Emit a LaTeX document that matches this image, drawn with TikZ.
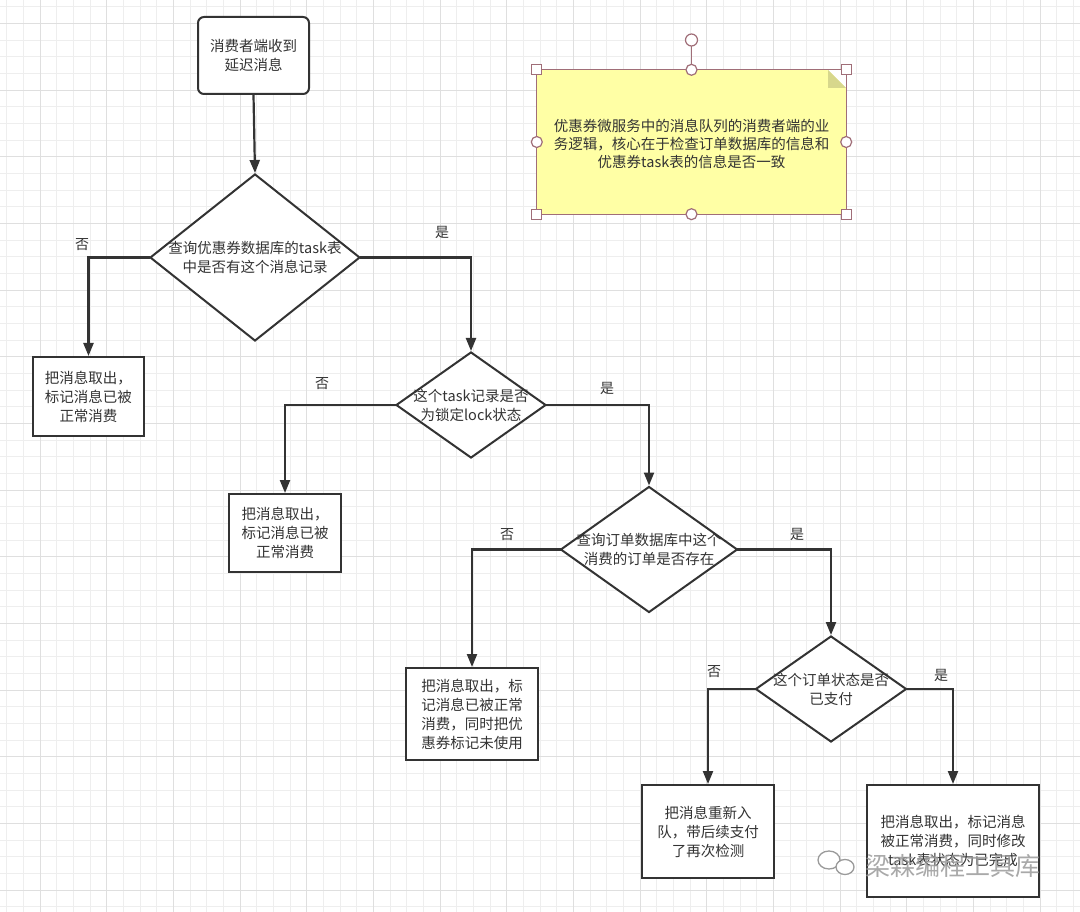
\documentclass[tikz,border=0pt]{standalone}
\usepackage{fontspec}
\usepackage{tikz}
\usetikzlibrary{shapes.geometric}
\usetikzlibrary{arrows.meta}
\newfontfamily\cjkfont{Noto Sans CJK SC}

\begin{document}
\begin{tikzpicture}[x=1pt,y=-1pt,line cap=rect,
	procbox/.style={draw=custcol_33_33_33, line width=2pt, fill=white, inner sep=0, align=center, text=custcol_33_33_33, font=\cjkfont\fontsize{14.5}{19}\selectfont},
	decision/.style={diamond, draw=custcol_33_33_33, line width=2pt, fill=white, inner sep=0},
	dtext/.style={inner sep=0, align=center, text=custcol_33_33_33, font=\cjkfont\fontsize{14.5}{19}\selectfont},
	yesno/.style={inner sep=0, text=custcol_33_33_33, font=\cjkfont\fontsize{14}{14}\selectfont},
	flowline/.style={line width=2.2pt, custcol_33_33_33, -{Triangle[length=13pt,width=10pt]}},
	sqhandle/.style={draw=custcol_a0_6e_78, line width=1.2pt, fill=white, inner sep=0, minimum size=10},
	rdhandle/.style={circle, draw=custcol_a0_6e_78, line width=1.2pt, fill=white, inner sep=0, minimum size=11}]
					\definecolor{custcol_33_33_33}{RGB}{51, 51, 51}
					\definecolor{custcol_ee_ee_ee}{RGB}{238, 238, 238}
					\definecolor{custcol_df_df_df}{RGB}{223, 223, 223}
					\definecolor{custcol_ff_ff_a5}{RGB}{255, 255, 165}
					\definecolor{custcol_d7_d7_8c}{RGB}{215, 215, 140}
					\definecolor{custcol_a0_6e_78}{RGB}{160, 110, 120}
					\definecolor{custcol_9a_9a_9a}{RGB}{154, 154, 154}
					\useasboundingbox [fill=white] (0,0) rectangle (1080,912);
					\foreach \k in {0,...,64} \draw [line width=0.8pt, custcol_ee_ee_ee] ({6.667+16.667*\k},0) -- ({6.667+16.667*\k},912);
					\foreach \k in {0,...,54} \draw [line width=0.8pt, custcol_ee_ee_ee] (0,{6.667+16.667*\k}) -- (1080,{6.667+16.667*\k});
					\foreach \k in {0,...,15} \draw [line width=0.9pt, custcol_df_df_df] ({40+66.667*\k},0) -- ({40+66.667*\k},912);
					\foreach \k in {0,...,13} \draw [line width=0.9pt, custcol_df_df_df] (0,{23.333+66.667*\k}) -- (1080,{23.333+66.667*\k});
					\node[procbox, rounded corners=6pt, minimum width=111, minimum height=77] (start) at (253.5,55.5) {消费者端收到\\延迟消息};
					\node[decision, minimum width=210, minimum height=167] (q1) at (255,257.5) {};
					\node[dtext] (q1t) at (q1) {查询优惠券数据库的task表\\中是否有这个消息记录};
					\node[procbox, minimum width=111, minimum height=79] (b1) at (88.5,396.5) {把消息取出，\\标记消息已被\\正常消费};
					\node[decision, minimum width=150, minimum height=106] (q2) at (471,405) {};
					\node[dtext] (q2t) at (q2) {这个task记录是否\\为锁定lock状态};
					\node[procbox, minimum width=112, minimum height=78] (b2) at (285,533) {把消息取出，\\标记消息已被\\正常消费};
					\node[decision, minimum width=177, minimum height=126] (q3) at (649,549.5) {};
					\node[dtext] (q3t) at (q3) {查询订单数据库中这个\\消费的订单是否存在};
					\node[procbox, minimum width=132, minimum height=92] (b3) at (472,714) {把消息取出，标\\记消息已被正常\\消费，同时把优\\惠券标记未使用};
					\node[decision, minimum width=151, minimum height=106] (q4) at (831,689) {};
					\node[dtext] (q4t) at (q4) {这个订单状态是否\\已支付};
					\node[procbox, minimum width=132, minimum height=93] (b4) at (708,831.5) {把消息重新入\\队，带后续支付\\了再次检测};
					\node[procbox, minimum width=172, minimum height=112] (b5) at (953,841) {把消息取出，标记消息\\被正常消费，同时修改\\task表状态为已完成};
					\draw [flowline] (start.south) -- (q1.north);
					\draw [flowline] (q1.west) -| (b1.north);
					\draw [flowline] (q1.east) -| (q2.north);
					\draw [flowline] (q2.west) -| (b2.north);
					\draw [flowline] (q2.east) -| (q3.north);
					\draw [flowline] (q3.west) -| (b3.north);
					\draw [flowline] (q3.east) -| (q4.north);
					\draw [flowline] (q4.west) -| (b4.north);
					\draw [flowline] (q4.east) -| (b5.north);
					\node[yesno] (n1) at (82,245) {否};
					\node[yesno] (y1) at (442,232) {是};
					\node[yesno] (n2) at (322,384) {否};
					\node[yesno] (y2) at (607,388) {是};
					\node[yesno] (n3) at (507,535) {否};
					\node[yesno] (y3) at (797,534) {是};
					\node[yesno] (n4) at (714,672) {否};
					\node[yesno] (y4) at (941,675) {是};
					\node[fill=custcol_ff_ff_a5, inner sep=0, minimum width=309, minimum height=144] (note) at (691.5,142) {};
					\fill [white] (828,70) -- (846,70) -- (846,88) -- cycle;
					\fill [custcol_d7_d7_8c] (828,70) -- (846,88) -- (828,88) -- cycle;
					\draw [line width=1.2pt, custcol_a0_6e_78] (note.north west) rectangle (note.south east);
					\node[dtext, font=\cjkfont\fontsize{14.5}{18}\selectfont] (notet) at (691.5,144) {优惠券微服务中的消息队列的消费者端的业\\务逻辑，核心在于检查订单数据库的信息和\\优惠券task表的信息是否一致};
					\foreach \a/\n in {north west/nw, north east/ne, south west/sw, south east/se} \node[sqhandle] (hd\n) at (note.\a) {};
					\foreach \a/\n in {north/n, south/s, west/w, east/e} \node[rdhandle] (hc\n) at (note.\a) {};
					\node[rdhandle, minimum size=12] (hrot) at (691.5,40) {};
					\draw [line width=1.2pt, custcol_a0_6e_78] (hrot) -- (hcn);
					\draw [line width=1.3pt, custcol_9a_9a_9a, fill=white] (829,860) ellipse (11.0 and 9.0 );
					\draw [line width=1.3pt, custcol_9a_9a_9a, fill=white] (845,867) ellipse (9.0 and 7.5 );
					\node[inner sep=0, text=custcol_9a_9a_9a, opacity=0.85, font=\cjkfont\fontsize{25}{25}\selectfont] (wmark) at (953,866) {梁森编程工具库};
				\end{tikzpicture}
\end{document}
